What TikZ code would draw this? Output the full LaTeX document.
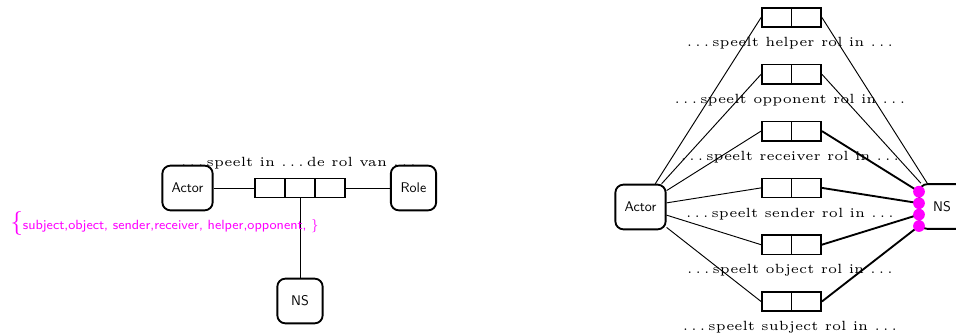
\documentclass[tikz,border=0pt]{standalone}
\definecolor{mag}{RGB}{255,0,255}
\newcommand\dd{.\kern\fontdimen3\font.\kern\fontdimen3\font.\kern\fontdimen3\font}
\begin{document}
\begin{tikzpicture}[x=0.75pt,y=-0.75pt,
  ent/.style={draw, line width=1.4pt, rounded corners=6pt, fill=white,
    font=\sffamily\fontsize{10.5}{12}\selectfont,
    minimum width=34pt, minimum height=33.5pt, inner xsep=7pt, inner ysep=0pt},
  cell/.style={draw, line width=1.2pt, minimum width=22.3pt, minimum height=14.4pt, inner sep=0pt, fill=white},
  conn/.style={line width=0.7pt},
  fat/.style={line width=1.4pt},
  lab/.style={font=\tiny, scale=2, inner sep=0pt},
  dotm/.style={circle, fill=mag, minimum size=8.8pt, inner sep=0pt},
  settext/.style={text=mag, font=\sffamily\tiny, scale=2, inner sep=0pt, anchor=base west}
]
\useasboundingbox (0,0) rectangle (956,335);

% ---------- left diagram ----------
\node[lab] (lt) at (300,163) {\dd speelt in \dd de rol van \dd};
\node[ent] (A1) at (187.5,188) {Actor};
\node[ent] (R1) at (413.5,188) {Role};
\node[ent] (N1) at (300,301) {NS};
\node[cell] (l1) at (270,188) {};
\node[cell] (l2) at (300,188) {};
\node[cell] (l3) at (330,188) {};
\draw[conn] (A1) -- (l1);
\draw[conn] (l3) -- (R1);
\draw[conn] (l2.south) -- (N1);
\node[settext] (set) at (10,229.5) {{\fontsize{8.6}{9}\selectfont$\{$}subject,object, sender,receiver, helper,opponent, \}};

% ---------- right diagram ----------
\node[ent] (A2) at (640.5,207) {Actor};
\node[ent] (N2) at (942,206.5) {NS};

\foreach \n/\y/\w in {hp/17.5/helper, op/74.3/opponent, rc/131.1/receiver, sd/187.9/sender, ob/244.7/object, sj/301.5/subject}{
  \node[cell] (\n a) at (776.75,\y) {};
  \node[cell] (\n b) at (806.25,\y) {};
  \node[lab] (\n l) at (791.5,\y+26) {\dd speelt \w\ rol in \dd};
}

\coordinate (p1) at (919,191.7);
\coordinate (p2) at (919,203.2);
\coordinate (p3) at (919,214.6);
\coordinate (p4) at (919,226);

\foreach \n in {hp,op,rc,sd,ob,sj}{
  \draw[conn] (\n a.west) -- (A2);
}
\draw[conn] (hpb.east) -- (N2);
\draw[conn] (opb.east) -- (N2);
\draw[fat] (rcb.east) -- (p1);
\draw[fat] (sdb.east) -- (p2);
\draw[fat] (obb.east) -- (p3);
\draw[fat] (sjb.east) -- (p4);

\node[dotm] (d1) at (p1) {};
\node[dotm] (d2) at (p2) {};
\node[dotm] (d3) at (p3) {};
\node[dotm] (d4) at (p4) {};
\end{tikzpicture}
\end{document}
